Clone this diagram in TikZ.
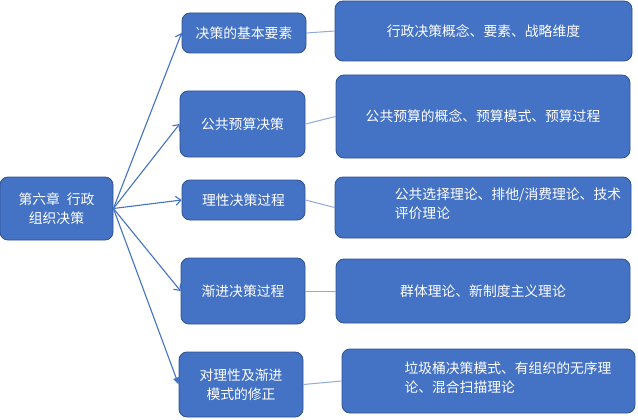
\documentclass[tikz,border=0pt]{standalone}
\usepackage{fontspec}
\setmainfont{Noto Sans CJK SC}
\usepackage{xcolor}
\usetikzlibrary{arrows.meta, calc}
\definecolor{boxcolor}{HTML}{4472C4}
\definecolor{edgecolor}{HTML}{2F528F}
\definecolor{linkcolor}{HTML}{8FAADC}

\begin{document}
\begin{tikzpicture}[x=1pt, y=-1pt,
    box/.style={rectangle, draw=edgecolor, line width=0.8pt, fill=boxcolor, rounded corners=8pt, text=white, align=center, font=\fontsize{13.8}{19}\selectfont, inner sep=2pt},
    textonly/.style={text=white, align=left, font=\fontsize{13.8}{19}\selectfont, inner sep=0pt},
    branch/.style={boxcolor, line width=1.1pt, -{Straight Barb[length=5pt, width=9pt]}},
    link/.style={linkcolor, line width=1pt}]
    \useasboundingbox (0,0) rectangle (638,420);

    % Chapter node
    \node[box, minimum width=113pt, minimum height=63pt] (root) at (56.5,208.5) {第六章\hspace{0.5em}行政\\组织决策};

    % Topics
    \node[box, minimum width=124pt, minimum height=40pt] (m1) at (244,33) {决策的基本要素};
    \node[box, minimum width=125pt, minimum height=66pt] (m2) at (242.5,124) {公共预算决策};
    \node[box, minimum width=123pt, minimum height=40pt] (m3) at (243.5,200) {理性决策过程};
    \node[box, minimum width=124pt, minimum height=66pt] (m4) at (243,291) {渐进决策过程};
    \node[box, minimum width=124pt, minimum height=65pt] (m5) at (241,384.5) {对理性及渐进\\模式的修正};

    % Contents
    \node[box, minimum width=297pt, minimum height=60pt] (r1) at (483.5,31) {行政决策概念、要素、战略维度};
    \node[box, minimum width=294pt, minimum height=83pt] (r2) at (483,116.5) {公共预算的概念、预算模式、预算过程};
    \node[box, minimum width=296pt, minimum height=61pt] (r3) at (483,207.5) {};
    \node[textonly] (r3text) at (508,204) {公共选择理论、排他/消费理论、技术\\评价理论};
    \node[box, minimum width=294pt, minimum height=64pt] (r4) at (483,291) {群体理论、新制度主义理论};
    \node[box, minimum width=293pt, minimum height=64pt] (r5) at (488.5,381) {};
    \node[textonly] (r5text) at (508,377.5) {垃圾桶决策模式、有组织的无序理\\论、混合扫描理论};

    % Arrows from chapter
    \foreach \n in {1,2,3,4} {
        \draw[branch] (root.east) -- (m\n.west);
    }
    \draw[boxcolor, line width=1.1pt, -{Triangle[length=7pt, width=6pt]}] (root.east) -- (m5.west);

    % Connecting lines
    \foreach \n in {1,...,5} {
        \draw[link] (m\n.east) -- (r\n.west);
    }
\end{tikzpicture}
\end{document}
